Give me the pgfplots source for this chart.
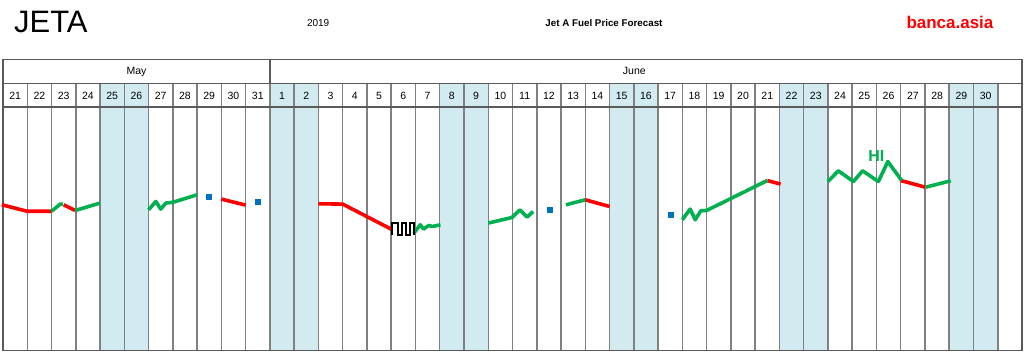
\documentclass[border=0pt]{standalone}
\usepackage{pgfplots}
\pgfplotsset{compat=1.18}
\usepackage{fontspec}
\setmainfont{Liberation Sans}
\definecolor{wkd}{HTML}{D2EBF0}
\definecolor{gridc}{HTML}{808080}
\definecolor{bordc}{HTML}{5A5A5A}
\definecolor{jgreen}{HTML}{00B050}
\definecolor{jred}{HTML}{FF0000}
\definecolor{jblue}{HTML}{0070C0}
\begin{document}
\begin{tikzpicture}
\begin{axis}[width=1024pt, height=352pt, scale only axis,
  xmin=-0.0824, xmax=42.0824, ymin=0, ymax=352, y dir=reverse,
  hide axis, clip=false,
  every axis plot/.append style={line join=round, line cap=butt}]
\path (axis cs:-0.0824,0) rectangle (axis cs:42.0824,352);
% weekend shading
\pgfplotsinvokeforeach{4,11,18,25,32,39}{
  \fill[wkd] (axis cs:#1,83.3) rectangle (axis cs:#1+2,351);
}
% vertical grid lines
\pgfplotsinvokeforeach{1,...,41}{
  \draw[gridc, line width=1.5pt] (axis cs:#1,83.3) -- (axis cs:#1,351);
}
\draw[bordc, line width=1.4pt] (axis cs:11,59.5) -- (axis cs:11,83.3);
\draw[bordc, line width=1.4pt] (axis cs:0,83.3) -- (axis cs:42,83.3);
\draw[bordc, line width=1.4pt] (axis cs:0,107.3) -- (axis cs:42,107.3);
\draw[bordc, line width=1.5pt] (axis cs:0,59.5) rectangle (axis cs:42,351);
% titles
\node[anchor=base west, inner sep=0pt, font=\fontsize{31}{31}\selectfont] at (axis cs:0.453,33) {JETA};
\node[anchor=base, inner sep=0pt, font=\fontsize{10}{10}\selectfont] at (axis cs:12.99,27) {2019};
\node[anchor=base, inner sep=0pt, font=\fontsize{9.8}{9.8}\selectfont\bfseries] at (axis cs:24.77,27) {Jet A Fuel Price Forecast};
\node[anchor=base, inner sep=0pt, text=jred, font=\fontsize{17}{17}\selectfont\bfseries] at (axis cs:39.03,28.5) {banca.asia};
\node[anchor=base, inner sep=0pt, font=\fontsize{10.5}{10.5}\selectfont] at (axis cs:5.5,75) {May};
\node[anchor=base, inner sep=0pt, font=\fontsize{10.5}{10.5}\selectfont] at (axis cs:26.02,75) {June};
\pgfplotsinvokeforeach{21,...,31}{
  \node[anchor=base, inner sep=0pt, font=\fontsize{10.5}{10.5}\selectfont] at (axis cs:#1-20.5,99.5) {#1};
}
\pgfplotsinvokeforeach{1,...,30}{
  \node[anchor=base, inner sep=0pt, font=\fontsize{10.5}{10.5}\selectfont] at (axis cs:#1+10.5,99.5) {#1};
}
% red segments
\addplot[jred, line width=3.6pt] coordinates {(-0.05,205) (1,211.5) (2,211.5)};
\addplot[jred, line width=3.6pt] coordinates {(2.5,205) (2.97,210.7)};
\addplot[jred, line width=3.6pt] coordinates {(9,199.3) (10,205.3)};
\addplot[jred, line width=3.6pt] coordinates {(13,204) (14,204.3) (16.05,230)};
\addplot[jred, line width=3.6pt] coordinates {(24,200) (25,206.7)};
\addplot[jred, line width=3.6pt] coordinates {(31.5,180.7) (32.05,184.3)};
\addplot[jred, line width=3.6pt] coordinates {(37,180.7) (38,187.3)};
% green segments
\addplot[jgreen, line width=3.6pt] coordinates {(2,211.5) (2.36,204.3) (2.47,204.3)};
\addplot[jgreen, line width=3.6pt] coordinates {(2.97,210.7) (4,203.3)};
\addplot[jgreen, line width=3.6pt] coordinates {(6,210) (6.3,201.7) (6.5,209.3) (6.71,203.3) (7,202.5) (8,195)};
\addplot[jgreen, line width=3.6pt] coordinates {(16.93,233.5) (17.2,225) (17.33,229.3) (17.55,225.7) (17.7,226.7) (18.03,225)};
\addplot[jgreen, line width=3.6pt] coordinates {(20,223.3) (20.98,217.7) (21.3,210) (21.6,217.3) (21.85,211.7)};
\addplot[jgreen, line width=3.6pt] coordinates {(23.2,205) (24,200)};
\addplot[jgreen, line width=3.6pt] coordinates {(28,220) (28.32,209.3) (28.53,220) (28.76,211) (29,210.7) (31.5,180.7)};
\addplot[jgreen, line width=3.6pt] coordinates {(34,181.7) (34.43,171) (35.05,181.7) (35.43,171) (36.08,181.7) (36.47,161.7) (37.04,180.7)};
\addplot[jgreen, line width=3.6pt] coordinates {(38.04,187.3) (39.06,181)};
% black square wave
\addplot[black, line width=2pt, line join=miter] coordinates {(16.05,235) (16.05,223.5) (16.3,223.5) (16.3,235) (16.46,235) (16.46,223.5) (16.62,223.5) (16.62,235) (16.78,235) (16.78,223.5) (16.93,223.5) (16.93,235)};
% blue squares
\addplot[only marks, mark=square*, mark size=2.6pt, color=jblue] coordinates {(8.49,197.3) (10.51,202.3) (22.53,210) (27.53,215)};
% HI label
\node[anchor=base, inner sep=0pt, text=jgreen, font=\fontsize{16}{16}\selectfont\bfseries] at (axis cs:36.0,161.5) {HI};
\end{axis}
\end{tikzpicture}
\end{document}
